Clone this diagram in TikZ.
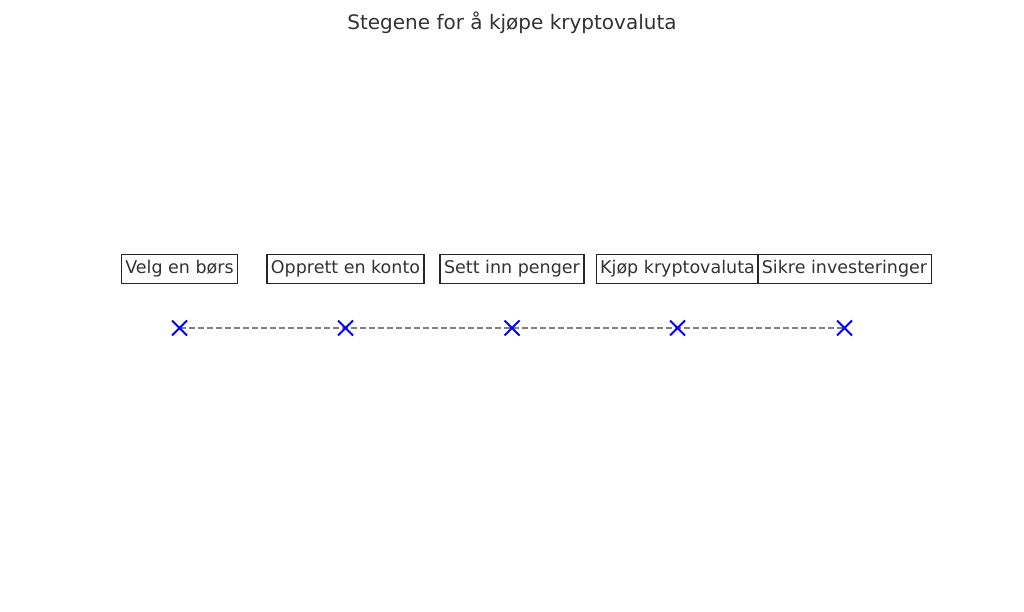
\documentclass[tikz,border=0pt]{standalone}
\usepackage{fontspec}
\setmainfont{DejaVu Sans}
\usetikzlibrary{positioning,calc}
\definecolor{txtgray}{HTML}{333333}
\tikzset{
  stepbox/.style={draw=black!85,line width=1.3pt,fill=white,inner sep=4pt,text=txtgray,
    font=\fontsize{17.5}{20}\selectfont,minimum height=29pt},
  cross/.style={blue,line width=1.8pt}
}
\begin{document}
\begin{tikzpicture}[x=1pt,y=-1pt]
  \useasboundingbox[fill=white] (0,0) rectangle (1024,612);
  \node[text=txtgray,font=\fontsize{20}{24}\selectfont] (title) at (512,23)
  {Stegene for å kjøpe kryptovaluta};
  % steps on the line
  \foreach \i/\x in {1/179.5,2/345.5,3/512,4/677.5,5/844.5}
    \coordinate (p\i) at (\x,328);
  \draw[gray,line width=1.8pt,dash pattern=on 6pt off 3pt] (p1) -- (p2) -- (p3) -- (p4) -- (p5);
  \foreach \i in {1,...,5}
    \draw[cross] ($(p\i)+(-7.5,-7.5)$) -- ($(p\i)+(7.5,7.5)$) ($(p\i)+(-7.5,7.5)$) -- ($(p\i)+(7.5,-7.5)$);
  % labels
  \node[stepbox] (s1) at (179.5,269) {Velg en børs};
  \node[stepbox] (s2) at (345.5,269) {Opprett en konto};
  \node[stepbox] (s3) at (512,269) {Sett inn penger};
  \node[stepbox] (s4) at (677.5,269) {Kjøp kryptovaluta};
  \node[stepbox] (s5) at (844.5,269) {Sikre investeringer};
\end{tikzpicture}
\end{document}
